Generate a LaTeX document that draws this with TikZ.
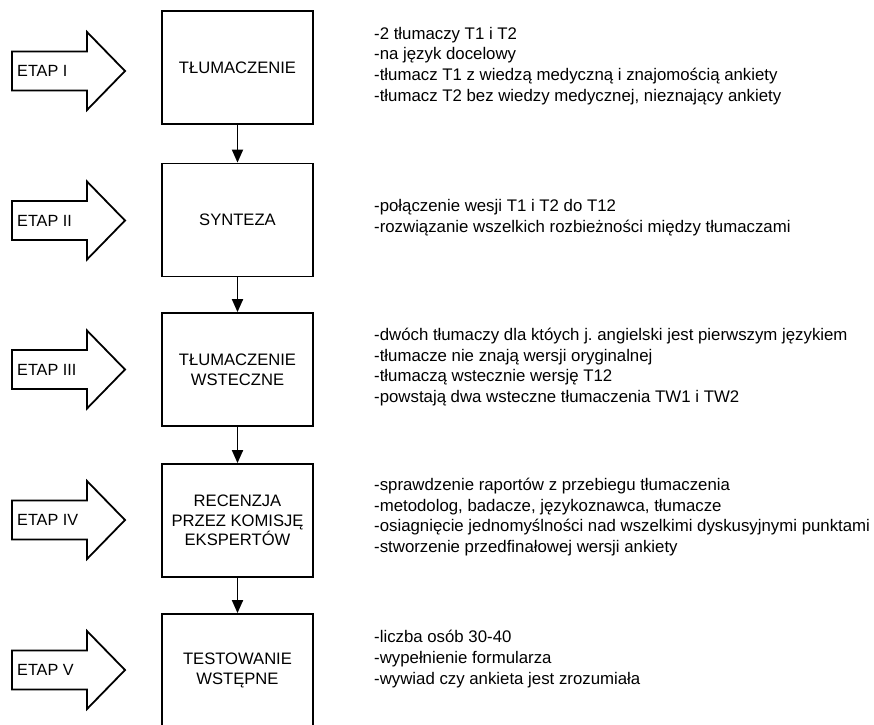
\documentclass[tikz,border=0pt]{standalone}
\usepackage{fontspec}
\setmainfont{Liberation Sans}
\usetikzlibrary{arrows.meta}
\frenchspacing
\begin{document}
\begin{tikzpicture}[x=1pt,y=-1pt,
  stagebox/.style={draw, line width=1.8pt, minimum width=151pt, minimum height=113pt,
    align=center, font=\fontsize{16.6}{19.7}\selectfont, inner sep=0pt},
  etaparrow/.style={draw, line width=1.8pt, line join=miter},
  etaplabel/.style={anchor=west, inner sep=0pt, font=\fontsize{16.2}{17}\selectfont},
  desc/.style={anchor=west, align=left, inner sep=0pt, font=\fontsize{16.8}{20.7}\selectfont},
  flow/.style={line width=1.8pt, -{Triangle[length=13pt,width=11pt]}}
]
\useasboundingbox (0,0) rectangle (874,724);

% boxes
\node[stagebox] (b1) at (237.5,67.5) {TŁUMACZENIE};
\node[stagebox] (b2) at (237.5,220) {SYNTEZA};
\node[stagebox] (b3) at (237.5,369.5) {TŁUMACZENIE\\WSTECZNE};
\node[stagebox] (b4) at (237.5,520.5) {RECENZJA\\PRZEZ KOMISJĘ\\EKSPERTÓW};
\node[stagebox] (b5) at (237.5,670.5) {TESTOWANIE\\WSTĘPNE};

% connectors
\draw[flow] (b1.south) -- (b2.north);
\draw[flow] (b2.south) -- (b3.north);
\draw[flow] (b3.south) -- (b4.north);
\draw[flow] (b4.south) -- (b5.north);

% stage arrows
\foreach \c/\lab/\nm in {71/ETAP I/e1, 220.5/ETAP II/e2, 369.5/ETAP III/e3, 520/ETAP IV/e4, 670/ETAP V/e5}{
  \draw[etaparrow] (12,\c-19.5) -- (87,\c-19.5) -- (87,\c-39) -- (125,\c)
    -- (87,\c+39) -- (87,\c+19.5) -- (12,\c+19.5) -- cycle;
  \node[etaplabel] (\nm) at (17,\c) {\lab};
}

% descriptions
\node[desc] (d1) at (374,66) {-2 tłumaczy T1 i T2\\-na język docelowy\\-tłumacz T1 z wiedzą medyczną i znajomością ankiety\\-tłumacz T2 bez wiedzy medycznej, nieznający ankiety};
\node[desc] (d2) at (374,218) {-połączenie wesji T1 i T2 do T12\\-rozwiązanie wszelkich rozbieżności między tłumaczami};
\node[desc] (d3) at (374,367) {-dwóch tłumaczy dla któych j. angielski jest pierwszym językiem\\-tłumacze nie znają wersji oryginalnej\\-tłumaczą wstecznie wersję T12\\-powstają dwa wsteczne tłumaczenia TW1 i TW2};
\node[desc] (d4) at (374,517) {-sprawdzenie raportów z przebiegu tłumaczenia\\-metodolog, badacze, językoznawca, tłumacze\\-osiagnięcie jednomyślności nad wszelkimi dyskusyjnymi punktami\\-stworzenie przedfinałowej wersji ankiety};
\node[desc] (d5) at (374,659) {-liczba osób 30-40\\-wypełnienie formularza\\-wywiad czy ankieta jest zrozumiała};
\end{tikzpicture}
\end{document}
